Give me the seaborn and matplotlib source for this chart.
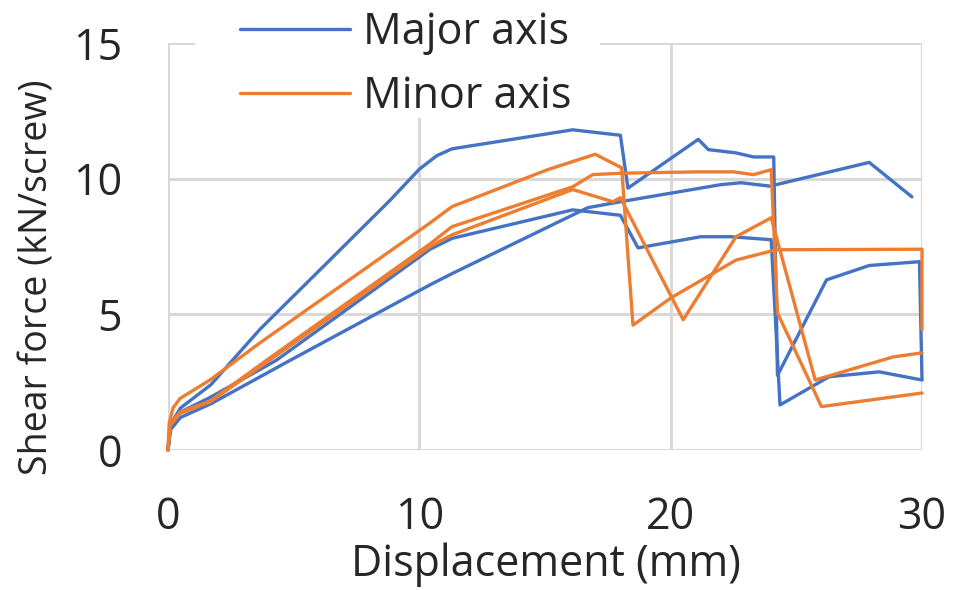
import matplotlib
matplotlib.use("Agg")
import matplotlib.pyplot as plt
import matplotlib.patches as mpatches
import seaborn as sns
import pandas as pd

# ---- data ----
major1_x = [0, 0.1, 0.5, 1.7, 3.66, 6.33, 8.83, 10.0, 10.7, 11.3, 16.1, 18.0, 18.3, 21.1, 21.5, 22.6, 23.3, 24.1, 24.25, 26.2, 27.9, 29.9, 30.0]
major1_y = [0, 0.95, 1.55, 2.4, 4.45, 6.9, 9.2, 10.35, 10.85, 11.1, 11.8, 11.6, 9.65, 11.45, 11.07, 10.95, 10.8, 10.8, 2.75, 6.27, 6.8, 6.94, 2.6]

major2_x = [0, 0.1, 0.5, 1.7, 4.3, 10.43, 11.3, 16.1, 18.0, 18.7, 21.2, 22.4, 24.0, 24.35, 26.3, 28.3, 30.0]
major2_y = [0, 0.85, 1.4, 1.95, 3.3, 7.4, 7.8, 8.85, 8.65, 7.45, 7.86, 7.86, 7.75, 1.66, 2.7, 2.88, 2.58]

major3_x = [0, 0.1, 0.5, 1.7, 4.85, 10.43, 11.3, 16.7, 18.0, 22.0, 22.8, 24.0, 24.2, 27.9, 29.6]
major3_y = [0, 0.75, 1.2, 1.7, 3.3, 6.09, 6.5, 8.93, 9.15, 9.78, 9.85, 9.72, 9.78, 10.6, 9.33]

minor1_x = [0, 0.05, 0.2, 0.48, 1.67, 3.66, 10.43, 11.3, 15.1, 17.0, 18.05, 18.5, 20.0, 22.6, 24.2, 30.0, 30.0]
minor1_y = [0, 1.0, 1.55, 1.9, 2.58, 3.95, 8.37, 8.97, 10.33, 10.9, 10.4, 4.6, 5.6, 7.0, 7.38, 7.4, 4.43]

minor2_x = [0, 0.08, 0.48, 1.67, 4.06, 10.43, 11.3, 16.1, 17.7, 18.0, 20.5, 22.6, 24.0, 25.75, 28.85, 30.0]
minor2_y = [0, 0.9, 1.35, 1.77, 3.32, 7.5, 7.93, 9.6, 9.15, 9.3, 4.8, 7.86, 8.56, 2.58, 3.43, 3.58]

minor3_x = [0, 0.08, 0.48, 1.67, 4.06, 10.43, 11.3, 16.1, 16.9, 18.0, 21.0, 22.5, 23.3, 24.0, 24.25, 26.0, 30.0]
minor3_y = [0, 0.95, 1.4, 1.8, 3.4, 7.6, 8.23, 9.7, 10.15, 10.2, 10.25, 10.25, 10.15, 10.33, 5.05, 1.6, 2.1]

series_names = ["Major axis", "Minor axis"]
x_ticks = [0, 10, 20, 30]
y_ticks = [0, 5, 10, 15]
x_label = "Displacement (mm)"
y_label = "Shear force (kN/screw)"

curves = [
    ("Major axis", "M1", major1_x, major1_y),
    ("Major axis", "M2", major2_x, major2_y),
    ("Major axis", "M3", major3_x, major3_y),
    ("Minor axis", "m1", minor1_x, minor1_y),
    ("Minor axis", "m2", minor2_x, minor2_y),
    ("Minor axis", "m3", minor3_x, minor3_y),
]
rows = []
for axis_name, spec, xs, ys in curves:
    for xv, yv in zip(xs, ys):
        rows.append({"disp": xv, "force": yv, "axis": axis_name, "specimen": spec})
df = pd.DataFrame(rows)

# ---- style ----
sns.set_theme(style="white")
plt.rcParams["font.family"] = ["Open Sans", "DejaVu Sans"]
FS = 31
TXT = "#262626"

fig = plt.figure(figsize=(9.71, 5.90), dpi=100)
ax = fig.add_axes([168 / 971, 140 / 590, 754 / 971, 407 / 590])

palette = {"Major axis": "#4472C4", "Minor axis": "#ED7D31"}
sns.lineplot(data=df, x="disp", y="force", hue="axis", units="specimen",
             estimator=None, sort=False, palette=palette, hue_order=series_names,
             linewidth=2.4, ax=ax)
for ln in ax.lines:
    ln.set_clip_on(False)
    ln.set_solid_joinstyle("round")

ax.set_xlim(0, 30)
ax.set_ylim(0, 15)
ax.set_xticks(x_ticks)
ax.set_yticks(y_ticks)
ax.grid(True, color="#d9d9d9", linewidth=2.2)
ax.set_axisbelow(True)
for s in ax.spines.values():
    s.set_visible(False)
ax.tick_params(axis="both", length=0, labelsize=FS, colors=TXT, pad=33)

ax.set_xlabel(x_label, fontsize=FS, color=TXT, va="center", ha="center")
ax.xaxis.set_label_coords((545.5 - 168) / 754, (450 - 565) / 407)
ax.set_ylabel(y_label, fontsize=27, color=TXT, va="center", ha="center")
ax.yaxis.set_label_coords((38 - 168) / 754, (450 - 277) / 407)

# white legend background box (overlaps the top gridline like the original)
legend_bg = mpatches.Rectangle((195 / 971, 1 - 118 / 590), 405 / 971, 118 / 590,
                               transform=fig.transFigure, facecolor="white",
                               edgecolor="none", zorder=1, clip_on=False)
ax.add_patch(legend_bg)

handles, labels = ax.get_legend_handles_labels()
leg = ax.legend(handles, labels, loc="center",
                bbox_to_anchor=(405.5 / 971, 1 - 65 / 590),
                bbox_transform=fig.transFigure,
                frameon=False,
                fontsize=FS, handlelength=2.55, handletextpad=0.3,
                labelspacing=0.45, borderpad=0.2)
for t in leg.get_texts():
    t.set_color(TXT)
for h in leg.get_lines():
    h.set_linewidth(2.4)

fig.savefig("out.png", dpi=100)
